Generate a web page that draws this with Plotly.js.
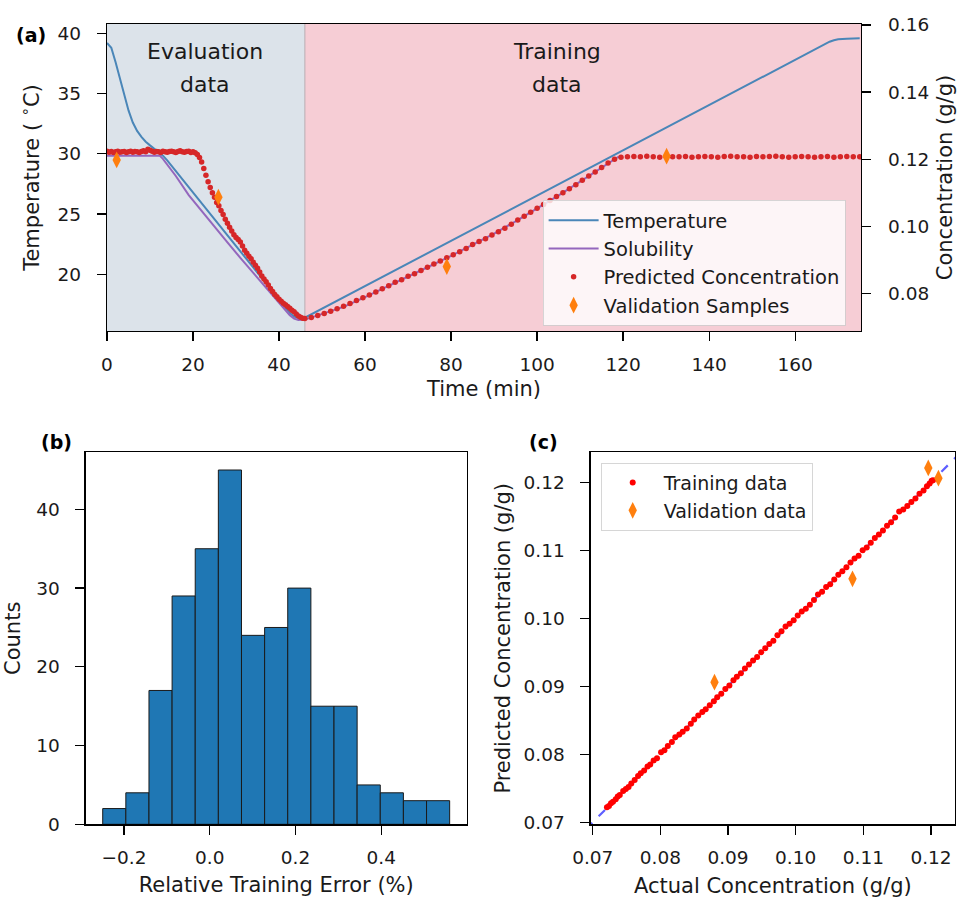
<!DOCTYPE html>
<html>
<head>
<meta charset="utf-8">
<script src="https://cdn.plot.ly/plotly-3.0.1.min.js"></script>
<style>html,body{margin:0;padding:0;background:#fff;}#chart{width:957px;height:898px;}</style>
</head>
<body>
<div id="chart"></div>
<script>
// ---------- Panel (a) data ----------
const tempTime = [0,1,2,3,4,5,6,7,8,9,10,11,12,13,14,16,20,25,30,35,38,40,41.5,42.5,43.5,44.5,46,50,60,70,80,90,100,110,120,130,140,150,160,164,166,167,168,169,170,172,175];
const tempVal  = [39.2,38.8,37.6,36.2,34.8,33.6,32.6,31.9,31.4,31.0,30.7,30.4,30.15,29.85,29.46,28.57,26.79,24.56,22.33,20.1,18.76,17.87,17.2,16.8,16.5,16.38,16.4,17.15,19.03,20.91,22.79,24.67,26.55,28.43,30.31,32.19,34.07,35.95,37.83,38.55,38.95,39.15,39.3,39.42,39.5,39.55,39.58];

const solTime = [0,12.3,13,14,16,19,22,25,28,31,34,37,39,40.5,41.5,42.5,43.5,44.5,46,50,55,60,65,70,75,80,85,90,95,100,105,110,115,119];
const solVal  = [0.1210,0.1210,0.1201,0.1185,0.1150,0.1093,0.1045,0.0998,0.0952,0.0906,0.0861,0.0816,0.0788,0.0765,0.0750,0.0735,0.0725,0.0721,0.0722,0.0738,0.0760,0.0789,0.0819,0.0850,0.0881,0.0912,0.0945,0.0978,0.1015,0.1053,0.1092,0.1133,0.1175,0.1208];

const predTime = [0,0.5,1,1.5,2,2.5,3,3.5,4,4.5,5,5.5,6,6.5,7,7.5,8,8.5,9,9.5,10,10.5,11,11.5,12,12.5,13,13.5,14,14.5,15,15.5,16,16.5,17,17.5,18,18.5,19,19.5,20,20.5,
  21,21.5,22,22.5,23,23.5,24,24.5,25,25.5,26,26.5,27,27.5,28,28.5,29,29.5,30,30.5,31,31.5,32,32.5,33,33.5,34,34.5,35,35.5,36,36.5,37,37.5,38,38.5,39,39.5,40,40.5,41,41.5,42,42.5,43,43.5,44,44.5,45,45.5,
  46,47.5,49,50.5,52,53.5,55,56.5,58,59.5,61,62.5,64,65.5,67,68.5,70,71.5,73,74.5,76,77.5,79,80.5,82,83.5,85,86.5,88,89.5,91,92.5,94,95.5,97,98.5,100,101.5,103,104.5,106,107.5,109,110.5,112,113.5,115,116.5,118,119.5,
  121,122.5,124,125.5,127,128.5,130,131.5,133,134.5,136,137.5,139,140.5,142,143.5,145,146.5,148,149.5,151,152.5,154,155.5,157,158.5,160,161.5,163,164.5,166,167.5,169,170.5,172,173.5,175];
const predConc = [0.1224,0.1221,0.1223,0.1220,0.1222,0.1224,0.1221,0.1222,0.1223,0.1220,
  0.1222,0.1224,0.1221,0.1223,0.1222,0.1220,0.1223,0.1225,0.1222,0.1230,
  0.1227,0.1224,0.1221,0.1223,0.1222,0.1220,0.1224,0.1222,0.1221,0.1223,
  0.1224,0.1222,0.1220,0.1223,0.1225,0.1222,0.1221,0.1223,0.1224,0.1220,
  0.1222,0.1219,
  0.1214,0.1205,0.1192,0.1172,0.1152,0.1133,0.1116,0.1100,0.1087,0.1071,
  0.1061,0.1047,0.1035,0.1021,0.1009,0.0997,0.0986,0.0975,0.0967,0.0961,
  0.0953,0.0941,0.0929,0.0920,0.0911,0.0903,0.0893,0.0884,0.0875,0.0864,
  0.0852,0.0843,0.0835,0.0825,0.0815,0.0806,0.0797,0.0790,0.0783,0.0777,
  0.0771,0.0766,0.0761,0.0756,0.0750,0.0745,0.0739,0.0733,0.0729,0.0726,
  0.0725,0.0728,0.0734,0.0740,0.0747,0.0754,0.0762,0.0770,0.0779,0.0787,
  0.0795,0.0804,0.0814,0.0823,0.0833,0.0841,0.0851,0.0859,0.0868,0.0878,
  0.0888,0.0897,0.0906,0.0915,0.0924,0.0934,0.0946,0.0955,0.0963,0.0974,
  0.0984,0.0994,0.1006,0.1019,0.1030,0.1042,0.1054,0.1065,0.1077,0.1089,
  0.1100,0.1112,0.1124,0.1137,0.1150,0.1162,0.1175,0.1189,0.1200,0.1206,
  0.1207,0.1208,0.1207,0.1209,0.1207,0.1206,0.1208,0.1207,0.1207,0.1208,
  0.1206,0.1207,0.1208,0.1207,0.1206,0.1208,0.1209,0.1207,0.1207,0.1206,
  0.1208,0.1207,0.1208,0.1209,0.1207,0.1206,0.1207,0.1208,0.1207,0.1206,
  0.1207,0.1208,0.1206,0.1207,0.1208,0.1207,0.1207];

const valTime = [2.25, 25.9, 79.0, 130.1];
const valConc = [0.1198, 0.1087, 0.0880, 0.1209];

const evalRegion = [0, 46];
const trainRegion = [46, 175.3];

// ---------- Panel (b) data ----------
const binStart = -0.2498;
const binWidth = 0.05397;
const binCounts = [2,4,17,29,35,45,24,25,30,15,15,5,4,3,3];

// ---------- Panel (c) data ----------
const trainActual = [0.0721,0.0724,0.0727,0.0730,0.0734,0.0737,0.0740,0.0745,0.0749,0.0753,
  0.0757,0.0762,0.0767,0.0771,0.0776,0.0781,0.0785,0.0790,0.0795,0.0801,
  0.0806,0.0811,0.0817,0.0822,0.0828,0.0833,0.0839,0.0845,0.0850,0.0856,
  0.0862,0.0867,0.0873,0.0879,0.0884,0.0890,0.0896,0.0902,0.0908,0.0913,
  0.0919,0.0925,0.0931,0.0937,0.0943,0.0949,0.0955,0.0961,0.0967,0.0973,
  0.0979,0.0985,0.0991,0.0997,0.1003,0.1009,0.1015,0.1021,0.1027,0.1033,
  0.1039,0.1045,0.1051,0.1057,0.1063,0.1069,0.1075,0.1081,0.1087,0.1093,
  0.1099,0.1105,0.1111,0.1117,0.1123,0.1129,0.1135,0.1141,0.1147,0.1153,
  0.1159,0.1165,0.1171,0.1177,0.1183,0.1189,0.1194,0.1198,0.1201,0.1203];
const trainPred = [0.0722,0.0724,0.0728,0.0730,0.0734,0.0738,0.0740,0.0746,0.0749,0.0752,
  0.0757,0.0762,0.0768,0.0772,0.0776,0.0782,0.0785,0.0791,0.0794,0.0803,
  0.0806,0.0812,0.0818,0.0825,0.0829,0.0833,0.0838,0.0845,0.0851,0.0857,
  0.0862,0.0866,0.0872,0.0878,0.0884,0.0889,0.0896,0.0901,0.0909,0.0914,
  0.0919,0.0926,0.0932,0.0938,0.0943,0.0950,0.0956,0.0962,0.0967,0.0975,
  0.0981,0.0988,0.0992,0.0997,0.1004,0.1010,0.1014,0.1020,0.1027,0.1035,
  0.1039,0.1046,0.1050,0.1057,0.1064,0.1069,0.1075,0.1082,0.1088,0.1092,
  0.1100,0.1104,0.1111,0.1118,0.1123,0.1129,0.1136,0.1141,0.1148,0.1157,
  0.1160,0.1165,0.1171,0.1176,0.1183,0.1188,0.1194,0.1198,0.1202,0.1203];
const valActual = [0.0880, 0.1084, 0.1196, 0.1211];
const valPred   = [0.0906, 0.1058, 0.1221, 0.1206];
const identityLine = [0.069, 0.125];

// ---------- styling ----------
const FONT = 'DejaVu Sans';
const TXT = '#1a1a1a';
const TICKF = {family: FONT, size: 18.5, color: TXT};
const TITLEF = {family: FONT, size: 21, color: TXT};
function axisBase(extra) {
  return Object.assign({
    showline: true, linecolor: '#000', linewidth: 1.3, mirror: true,
    ticks: 'outside', ticklen: 9, tickwidth: 1.3, tickcolor: '#000',
    showgrid: false, zeroline: false, tickfont: TICKF
  }, extra);
}

const binCenters = binCounts.map((c, i) => binStart + binWidth * (i + 0.5));

const traces = [
  {x: tempTime, y: tempVal, type: 'scatter', mode: 'lines', name: 'Temperature',
   line: {color: '#4a86b8', width: 2}, xaxis: 'x', yaxis: 'y', legend: 'legend'},
  {x: solTime, y: solVal, type: 'scatter', mode: 'lines', name: 'Solubility',
   line: {color: '#9467bd', width: 2}, xaxis: 'x', yaxis: 'y2', legend: 'legend'},
  {x: predTime, y: predConc, type: 'scatter', mode: 'markers', name: 'Predicted Concentration',
   marker: {color: '#d62728', size: 5.5}, xaxis: 'x', yaxis: 'y2', legend: 'legend'},
  {x: valTime, y: valConc, type: 'scatter', mode: 'markers', name: 'Validation Samples',
   marker: {color: '#ff7f0e', size: 12, symbol: 'diamond-tall'}, xaxis: 'x', yaxis: 'y2', legend: 'legend'},
  {x: binCenters, y: binCounts, type: 'bar', width: binWidth, showlegend: false,
   marker: {color: '#1f77b4', line: {color: '#1a1a1a', width: 1}}, xaxis: 'x3', yaxis: 'y3'},
  {x: identityLine, y: identityLine, type: 'scatter', mode: 'lines', showlegend: false,
   line: {color: 'rgba(40,40,255,0.75)', width: 2.2, dash: 'dash'}, xaxis: 'x4', yaxis: 'y4'},
  {x: trainActual, y: trainPred, type: 'scatter', mode: 'markers', name: 'Training data',
   marker: {color: '#ff0000', size: 6}, xaxis: 'x4', yaxis: 'y4', legend: 'legend2'},
  {x: valActual, y: valPred, type: 'scatter', mode: 'markers', name: 'Validation data',
   marker: {color: '#ff7f0e', size: 12, symbol: 'diamond-tall'}, xaxis: 'x4', yaxis: 'y4', legend: 'legend2'}
];

const layout = {
  width: 957, height: 898,
  margin: {l: 0, r: 0, t: 0, b: 0},
  paper_bgcolor: '#fff', plot_bgcolor: 'rgba(0,0,0,0)',
  font: {family: FONT, color: TXT},
  showlegend: true,
  bargap: 0,
  xaxis: axisBase({domain: [0.11181, 0.89969], range: [0, 175.3], dtick: 20, tick0: 0, anchor: 'y', ticklabelstandoff: 7,
    title: {text: 'Time (min)', font: TITLEF, standoff: 7}}),
  yaxis: axisBase({domain: [0.63140, 0.97327], range: [15.3, 40.77], dtick: 5, tick0: 0, anchor: 'x', mirror: false, ticklabelstandoff: 12,
    title: {text: 'Temperature ( <sup>∘</sup>C)', font: TITLEF, standoff: 12}}),
  yaxis2: axisBase({overlaying: 'y', side: 'right', anchor: 'x', range: [0.0688, 0.1603], dtick: 0.02, tick0: 0, ticklabelstandoff: 13,
    tickformat: '.2f', mirror: false, title: {text: 'Concentration (g/g)', font: TITLEF, standoff: 9}}),
  xaxis3: axisBase({domain: [0.08955, 0.48767], range: [-0.2895, 0.5995], dtick: 0.2, tick0: 0, tickformat: '.1f', anchor: 'y3', ticklabelstandoff: 7,
    title: {text: 'Relative Training Error (%)', font: TITLEF, standoff: 10}}),
  yaxis3: axisBase({domain: [0.08207, 0.49633], range: [0, 47.25], dtick: 10, tick0: 0, anchor: 'x3', ticklabelstandoff: 12,
    title: {text: 'Counts', font: TITLEF, standoff: 9}}),
  xaxis4: axisBase({domain: [0.61724, 0.99791], range: [0.0697, 0.12355], dtick: 0.01, tick0: 0, tickformat: '.2f', anchor: 'y4', ticklabelstandoff: 7,
    title: {text: 'Actual Concentration (g/g)', font: TITLEF, standoff: 12}}),
  yaxis4: axisBase({domain: [0.08207, 0.49633], range: [0.0697, 0.1244], dtick: 0.01, tick0: 0, tickformat: '.2f', anchor: 'x4', ticklabelstandoff: 12,
    title: {text: 'Predicted Concentration (g/g)', font: TITLEF, standoff: 7}}),
  legend: {x: 0.567, y: 0.7773, xanchor: 'left', yanchor: 'top',
    bgcolor: 'rgba(255,255,255,0.8)', bordercolor: 'rgba(204,204,204,0.8)', borderwidth: 1,
    font: {family: FONT, size: 19.5, color: TXT}, itemwidth: 50, traceorder: 'normal'},
  legend2: {x: 0.6277, y: 0.4847, xanchor: 'left', yanchor: 'top',
    bgcolor: 'rgba(255,255,255,0.8)', bordercolor: 'rgba(204,204,204,0.8)', borderwidth: 1,
    font: {family: FONT, size: 19, color: TXT}, itemwidth: 52},
  shapes: [
    {type: 'rect', xref: 'x', yref: 'y domain', x0: evalRegion[0], x1: evalRegion[1], y0: 0, y1: 1,
     fillcolor: '#dce3ea', line: {width: 0}, layer: 'below'},
    {type: 'rect', xref: 'x', yref: 'y domain', x0: trainRegion[0], x1: trainRegion[1], y0: 0, y1: 1,
     fillcolor: '#f6cdd5', line: {width: 0}, layer: 'below'},
    {type: 'line', xref: 'x', yref: 'y domain', x0: evalRegion[1], x1: evalRegion[1], y0: 0, y1: 1,
     line: {color: '#b8adb2', width: 1}, layer: 'below'}
  ],
  annotations: [
    {text: 'Evaluation', x: 22.8, xref: 'x', y: 52, yref: 'paper', showarrow: false, font: {family: FONT, size: 22, color: TXT}},
    {text: 'data', x: 22.8, xref: 'x', y: 84, yref: 'paper', showarrow: false, font: {family: FONT, size: 22, color: TXT}},
    {text: 'Training', x: 104.7, xref: 'x', y: 52, yref: 'paper', showarrow: false, font: {family: FONT, size: 22, color: TXT}},
    {text: 'data', x: 104.7, xref: 'x', y: 84, yref: 'paper', showarrow: false, font: {family: FONT, size: 22, color: TXT}},
    {text: '<b>(a)</b>', x: 31, y: 35, xref: 'paper', yref: 'paper', showarrow: false, font: {family: FONT, size: 19, color: '#000'}},
    {text: '<b>(b)</b>', x: 56, y: 442, xref: 'paper', yref: 'paper', showarrow: false, font: {family: FONT, size: 19, color: '#000'}},
    {text: '<b>(c)</b>', x: 543, y: 442, xref: 'paper', yref: 'paper', showarrow: false, font: {family: FONT, size: 19, color: '#000'}}
  ]
};
// annotation positions are given in px from the top-left; convert to paper coords
layout.annotations.forEach(a => {
  a.y = 1 - a.y / 898;
  a.yanchor = 'middle';
  a.xanchor = 'center';
  if (a.xref === 'paper') a.x = a.x / 957;
});

Plotly.newPlot('chart', traces, layout, {staticPlot: true, displayModeBar: false});
</script>
</body>
</html>
